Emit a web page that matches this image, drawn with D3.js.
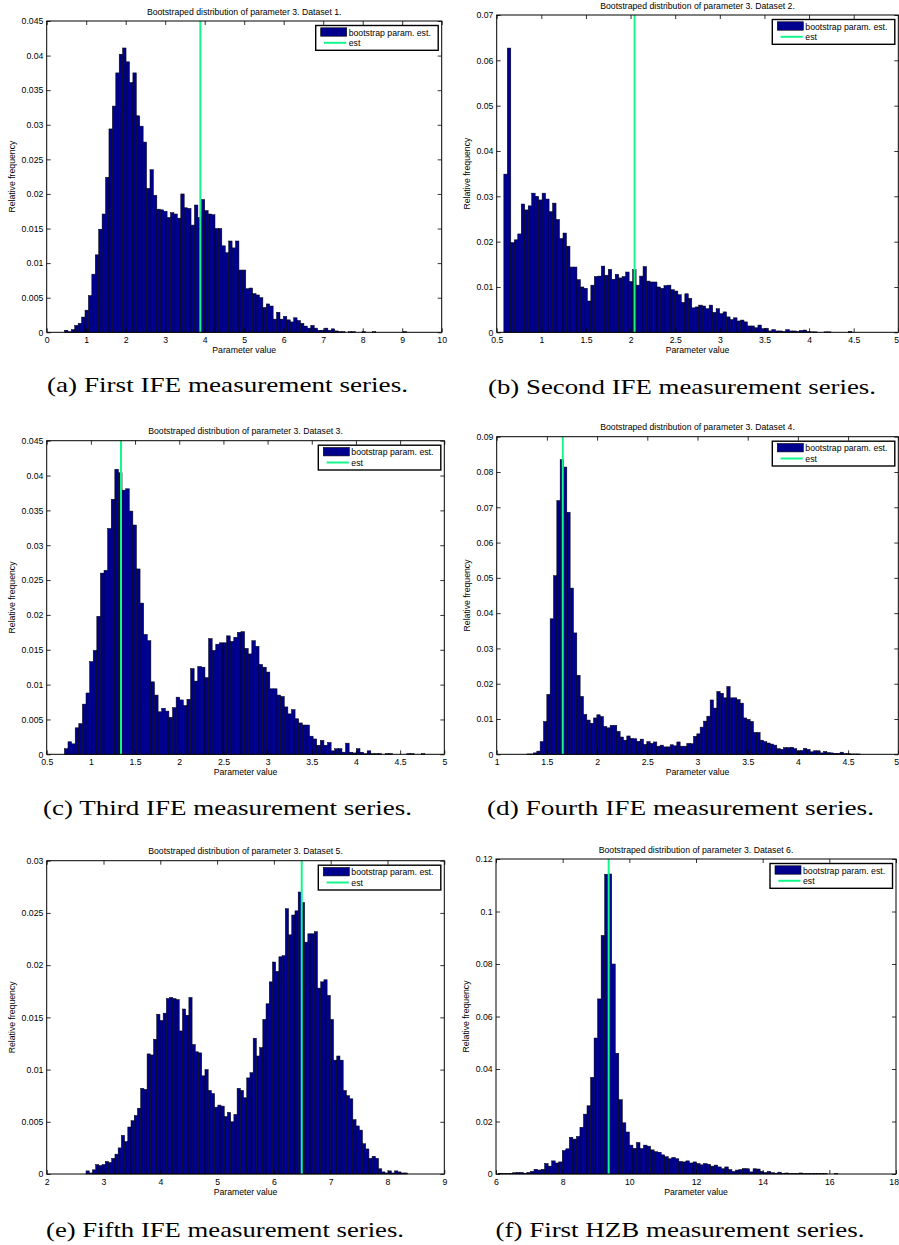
<!DOCTYPE html>
<html><head><meta charset="utf-8">
<script src="https://cdn.jsdelivr.net/npm/d3@7"></script>
<style>body{margin:0;background:#fff}svg{display:block}</style>
</head><body>
<svg id="chart" width="899" height="1245"></svg>
<script>
// ---------- data ----------
const valuesA = [0.0003,0.0001,0.0004,0.0010,0.0013,0.0022,0.0032,0.0053,0.0084,0.0112,
 0.0149,0.0171,0.0224,0.0294,0.0327,0.0375,0.0402,0.0411,0.0391,0.0361,
 0.0375,0.0313,0.0298,0.0275,0.0208,0.0235,0.0198,0.0178,0.0177,0.0175,
 0.0166,0.0173,0.0171,0.0165,0.0200,0.0180,0.0179,0.0155,0.0184,0.0166,
 0.0192,0.0176,0.0171,0.0170,0.0150,0.0150,0.0125,0.0115,0.0132,0.0122,
 0.0132,0.0090,0.0090,0.0063,0.0064,0.0056,0.0054,0.0050,0.0036,0.0041,
 0.0038,0.0019,0.0029,0.0019,0.0023,0.0018,0.0015,0.0021,0.0017,0.0013,
 0.0009,0.0006,0.0010,0.0006,0.0003,0.0003,0.0006,0.0003,0.0005,0.0002,
 0.0001,0.0001,0,0.0001,0.0001,0,0,0.0001,0,0,
 0.0001,0,0,0,0,0,0,0,0,0.0001];
const valuesB = [0.0349,0.0627,0.0198,0.0204,0.0217,0.0283,0.0270,0.0279,0.0307,0.0300,
 0.0292,0.0307,0.0294,0.0266,0.0285,0.0249,0.0207,0.0219,0.0190,0.0144,
 0.0144,0.0116,0.0100,0.0097,0.0069,0.0104,0.0123,0.0124,0.0146,0.0126,
 0.0139,0.0117,0.0128,0.0120,0.0123,0.0133,0.0112,0.0138,0.0104,0.0124,
 0.0145,0.0113,0.0111,0.0111,0.0100,0.0097,0.0103,0.0104,0.0094,0.0091,
 0.0083,0.0066,0.0085,0.0075,0.0054,0.0056,0.0060,0.0058,0.0052,0.0060,
 0.0044,0.0052,0.0041,0.0045,0.0034,0.0028,0.0032,0.0025,0.0027,0.0023,
 0.0014,0.0014,0.0010,0.0016,0.0008,0.0009,0.0003,0.0006,0.0003,0.0003,
 0.0002,0.0006,0.0003,0.0003,0.0002,0.0004,0.0005,0.0002,0.0001,0.0001,
 0,0,0.0001,0.0001,0,0,0,0,0,0.0002];
const valuesC = [0.0008,0.0018,0.0015,0.0038,0.0044,0.0072,0.0088,0.0133,0.0149,0.0198,
 0.0260,0.0264,0.0324,0.0366,0.0409,0.0404,0.0379,0.0381,0.0349,0.0329,
 0.0266,0.0217,0.0172,0.0163,0.0104,0.0085,0.0061,0.0066,0.0062,0.0053,
 0.0067,0.0082,0.0078,0.0070,0.0079,0.0123,0.0105,0.0126,0.0125,0.0110,
 0.0166,0.0149,0.0158,0.0160,0.0160,0.0170,0.0162,0.0168,0.0175,0.0176,
 0.0152,0.0144,0.0163,0.0155,0.0129,0.0125,0.0118,0.0094,0.0094,0.0085,
 0.0083,0.0068,0.0058,0.0064,0.0051,0.0045,0.0042,0.0042,0.0026,0.0022,
 0.0013,0.0020,0.0013,0.0017,0.0005,0.0008,0.0008,0.0003,0.0016,0.0003,
 0.0002,0.0008,0.0003,0.0001,0.0005,0.0001,0.0001,0.0001,0,0.0001,
 0.0001,0,0,0,0,0.0001,0.0001,0,0,0.0001];
const valuesD = [0.0001,0.0001,0.0004,0.0009,0.0036,0.0093,0.0170,0.0384,0.0506,0.0719,
 0.0835,0.0814,0.0686,0.0471,0.0344,0.0224,0.0164,0.0113,0.0097,0.0088,
 0.0103,0.0112,0.0107,0.0079,0.0075,0.0082,0.0082,0.0065,0.0049,0.0040,
 0.0052,0.0045,0.0044,0.0037,0.0043,0.0028,0.0036,0.0031,0.0035,0.0023,
 0.0026,0.0021,0.0021,0.0027,0.0024,0.0035,0.0023,0.0023,0.0031,0.0030,
 0.0051,0.0058,0.0077,0.0094,0.0108,0.0154,0.0131,0.0178,0.0173,0.0160,
 0.0192,0.0160,0.0160,0.0155,0.0145,0.0103,0.0099,0.0093,0.0062,0.0062,
 0.0040,0.0036,0.0032,0.0029,0.0026,0.0016,0.0014,0.0019,0.0019,0.0020,
 0.0016,0.0010,0.0011,0.0017,0.0014,0.0007,0.0010,0.0010,0.0004,0.0008,
 0.0005,0.0004,0.0003,0.0003,0.0006,0.0002,0.0002,0.0001,0.0001,0.0001];
const valuesE = [0.0003,0.0001,0.0004,0.0009,0.0008,0.0009,0.0012,0.0011,0.0015,0.0019,
 0.0025,0.0037,0.0031,0.0045,0.0051,0.0056,0.0063,0.0082,0.0081,0.0115,
 0.0114,0.0129,0.0153,0.0147,0.0154,0.0168,0.0169,0.0168,0.0167,0.0137,
 0.0158,0.0152,0.0169,0.0124,0.0117,0.0116,0.0094,0.0100,0.0080,0.0077,
 0.0064,0.0066,0.0065,0.0055,0.0059,0.0050,0.0057,0.0082,0.0080,0.0073,
 0.0092,0.0097,0.0130,0.0113,0.0121,0.0148,0.0163,0.0184,0.0203,0.0194,
 0.0208,0.0209,0.0254,0.0229,0.0248,0.0252,0.0270,0.0260,0.0222,0.0230,
 0.0230,0.0232,0.0178,0.0184,0.0186,0.0171,0.0148,0.0109,0.0113,0.0109,
 0.0080,0.0075,0.0072,0.0052,0.0046,0.0042,0.0029,0.0024,0.0015,0.0017,
 0.0015,0.0005,0.0002,0.0001,0.0003,0.0001,0.0003,0.0002,0.0001,0.0001];
const valuesF = [0.0003,0.0002,0.0002,0.0002,0.0005,0.0006,0.0006,0.0003,0.0006,0.0010,
 0.0018,0.0015,0.0018,0.0040,0.0030,0.0050,0.0042,0.0046,0.0089,0.0096,
 0.0140,0.0133,0.0143,0.0178,0.0228,0.0260,0.0368,0.0518,0.0667,0.0909,
 0.1142,0.1143,0.0800,0.0460,0.0283,0.0195,0.0160,0.0110,0.0098,0.0120,
 0.0097,0.0110,0.0106,0.0092,0.0085,0.0083,0.0073,0.0066,0.0058,0.0063,
 0.0058,0.0048,0.0046,0.0050,0.0042,0.0046,0.0040,0.0035,0.0040,0.0037,
 0.0030,0.0034,0.0027,0.0020,0.0027,0.0017,0.0010,0.0015,0.0017,0.0021,
 0.0020,0.0008,0.0020,0.0019,0.0010,0.0006,0.0010,0.0005,0.0003,0.0007,
 0.0002,0.0004,0.0001,0.0001,0.0001,0.0004,0.0001,0.0001,0.0001,0.0002,
 0.0001,0.0001,0.0001,0,0,0.0001,0,0,0,0];

const binStarts = [0.45, 0.58, 0.70, 1.30, 2.692, 6.08];
const binWidths = [0.0866, 0.039, 0.0408, 0.0332, 0.0566, 0.106];
const estimates = [3.89, 2.045, 1.341, 1.658, 6.49, 9.38];

const xTicksA = [0,1,2,3,4,5,6,7,8,9,10];
const xTicksB = [0.5,1,1.5,2,2.5,3,3.5,4,4.5,5];
const xTicksC = [0.5,1,1.5,2,2.5,3,3.5,4,4.5,5];
const xTicksD = [1,1.5,2,2.5,3,3.5,4,4.5,5];
const xTicksE = [2,3,4,5,6,7,8,9];
const xTicksF = [6,8,10,12,14,16,18];
const yTicksA = [0,0.005,0.01,0.015,0.02,0.025,0.03,0.035,0.04,0.045];
const yTicksB = [0,0.01,0.02,0.03,0.04,0.05,0.06,0.07];
const yTicksC = [0,0.005,0.01,0.015,0.02,0.025,0.03,0.035,0.04,0.045];
const yTicksD = [0,0.01,0.02,0.03,0.04,0.05,0.06,0.07,0.08,0.09];
const yTicksE = [0,0.005,0.01,0.015,0.02,0.025,0.03];
const yTicksF = [0,0.02,0.04,0.06,0.08,0.1,0.12];

const titles = [1,2,3,4,5,6].map(k => "Bootstraped distribution of parameter 3. Dataset " + k + ".");
const captions = ["(a) First IFE measurement series.","(b) Second IFE measurement series.",
 "(c) Third IFE measurement series.","(d) Fourth IFE measurement series.",
 "(e) Fifth IFE measurement series.","(f) First HZB measurement series."];
const legendLabels = ["bootstrap param. est.", "est"];
const xLabel = "Parameter value";
const yLabel = "Relative frequency";

const allValues = [valuesA, valuesB, valuesC, valuesD, valuesE, valuesF];
const allXTicks = [xTicksA, xTicksB, xTicksC, xTicksD, xTicksE, xTicksF];
const allYTicks = [yTicksA, yTicksB, yTicksC, yTicksD, yTicksE, yTicksF];

// ---------- layout ----------
const layout = [
 {l:46.7, r:441.7, t:21,    b:332.3, cx:227.5, cy:392,  cw:361},
 {l:496.7,r:898.3, t:15,    b:332.3, cx:682,   cy:394,  cw:388},
 {l:46.7, r:444.3, t:440.7, b:754.3, cx:227.5, cy:815,  cw:369},
 {l:496.7,r:898.3, t:436.7, b:754.3, cx:680.5, cy:815,  cw:387},
 {l:46.7, r:444.3, t:860.7, b:1174,  cx:225,   cy:1237, cw:358},
 {l:496,  r:896,   t:859,   b:1174,  cx:680,   cy:1237, cw:369}
];

const FONT = "'Liberation Sans', Arial, Helvetica, sans-serif";
const FS = 8.7;
const BAR_FILL = "#00008f";
const EST_COLOR = "#14f58c";
const PAGE_W = 899;
const fmt = v => String(+v.toFixed(4));

const svg = d3.select("#chart");

allValues.forEach((vals, p) => {
  const L = layout[p];
  const xt = allXTicks[p], yt = allYTicks[p];
  const xs = d3.scaleLinear().domain([xt[0], xt[xt.length-1]]).range([L.l, L.r]);
  const ys = d3.scaleLinear().domain([yt[0], yt[yt.length-1]]).range([L.b, L.t]);
  const g = svg.append("g");

  // bars
  g.selectAll("rect.bar").data(vals).join("rect")
    .attr("class","bar")
    .attr("x", (d,i) => xs(binStarts[p] + i*binWidths[p]))
    .attr("width", (d,i) => xs(binStarts[p] + (i+1)*binWidths[p]) - xs(binStarts[p] + i*binWidths[p]))
    .attr("y", d => ys(d))
    .attr("height", d => ys(0) - ys(d))
    .attr("fill", BAR_FILL)
    .attr("stroke", "#000")
    .attr("stroke-width", 0.5);

  // estimate line
  g.append("line")
    .attr("x1", xs(estimates[p])).attr("x2", xs(estimates[p]))
    .attr("y1", L.t).attr("y2", L.b)
    .attr("stroke", EST_COLOR).attr("stroke-width", 2);

  // axes (ticks inward, mirrored)
  const ax = (axis, tx, ty, labels) => {
    const a = g.append("g").attr("transform", `translate(${tx},${ty})`).call(axis);
    a.select(".domain").remove();
    a.selectAll(".tick line").attr("stroke","#000").attr("stroke-width",0.8);
    a.selectAll("text").attr("font-family", FONT).attr("font-size", FS).attr("fill","#000");
    if (!labels) a.selectAll("text").remove();
    return a;
  };
  const xAx = ax(d3.axisBottom(xs).tickValues(xt).tickFormat(fmt).tickSizeInner(-4).tickSizeOuter(0).tickPadding(5), 0, L.b, true);
  // keep tick labels at the page edge inside the page
  xAx.selectAll(".tick").each(function(d){
    const t = d3.select(this).select("text");
    const w = t.node().getComputedTextLength();
    const cx = xs(d);
    if (cx + w/2 > PAGE_W - 0.5) {
      t.attr("text-anchor","end").attr("x", (PAGE_W - 0.5) - cx);
    }
  });
  ax(d3.axisTop(xs).tickValues(xt).tickSizeInner(-4).tickSizeOuter(0), 0, L.t, false);
  const yAx = ax(d3.axisLeft(ys).tickValues(yt).tickFormat(fmt).tickSizeInner(-4).tickSizeOuter(0).tickPadding(3.4), L.l, 0, true);
  ax(d3.axisRight(ys).tickValues(yt).tickSizeInner(-4).tickSizeOuter(0), L.r, 0, false);

  // frame
  g.append("rect").attr("x", L.l).attr("y", L.t)
    .attr("width", L.r - L.l).attr("height", L.b - L.t)
    .attr("fill","none").attr("stroke","#000").attr("stroke-width",1);

  // title
  g.append("text").attr("x", (L.l+L.r)/2).attr("y", L.t - 6.5)
    .attr("text-anchor","middle").attr("font-family",FONT).attr("font-size",FS)
    .text(titles[p]);

  // x label
  g.append("text").attr("x", (L.l+L.r)/2).attr("y", L.b + 21)
    .attr("text-anchor","middle").attr("font-family",FONT).attr("font-size",FS)
    .text(xLabel);

  // y label
  let maxW = 0;
  yAx.selectAll("text").each(function(){ maxW = Math.max(maxW, this.getComputedTextLength()); });
  const ylx = L.l - 3.4 - maxW - 6.5;
  g.append("text")
    .attr("transform", `translate(${ylx},${(L.t+L.b)/2}) rotate(-90)`)
    .attr("text-anchor","middle").attr("font-family",FONT).attr("font-size",FS)
    .text(yLabel);

  // legend
  const lw = 122.5, lh = 24.8;
  const lx = L.r - 3.5 - lw, ly = L.t + 4.5;
  const lg = g.append("g").attr("transform", `translate(${lx},${ly})`);
  lg.append("rect").attr("width", lw).attr("height", lh)
    .attr("fill","#fff").attr("stroke","#000").attr("stroke-width",1.4);
  lg.append("rect").attr("x",5).attr("y",2.3).attr("width",26).attr("height",8.4)
    .attr("fill",BAR_FILL).attr("stroke","#000").attr("stroke-width",0.6);
  lg.append("text").attr("x",33).attr("y",10).attr("font-family",FONT).attr("font-size",FS)
    .text(legendLabels[0]);
  lg.append("line").attr("x1",8.3).attr("x2",30.5).attr("y1",17.3).attr("y2",17.3)
    .attr("stroke",EST_COLOR).attr("stroke-width",2);
  lg.append("text").attr("x",33).attr("y",20.7).attr("font-family",FONT).attr("font-size",FS)
    .text(legendLabels[1]);

  // caption
  svg.append("text").attr("x", L.cx).attr("y", L.cy)
    .attr("text-anchor","middle")
    .attr("font-family","'Liberation Serif', 'Times New Roman', serif")
    .attr("font-size", 22)
    .attr("textLength", L.cw).attr("lengthAdjust","spacingAndGlyphs")
    .text(captions[p]);
});
</script>
</body></html>
